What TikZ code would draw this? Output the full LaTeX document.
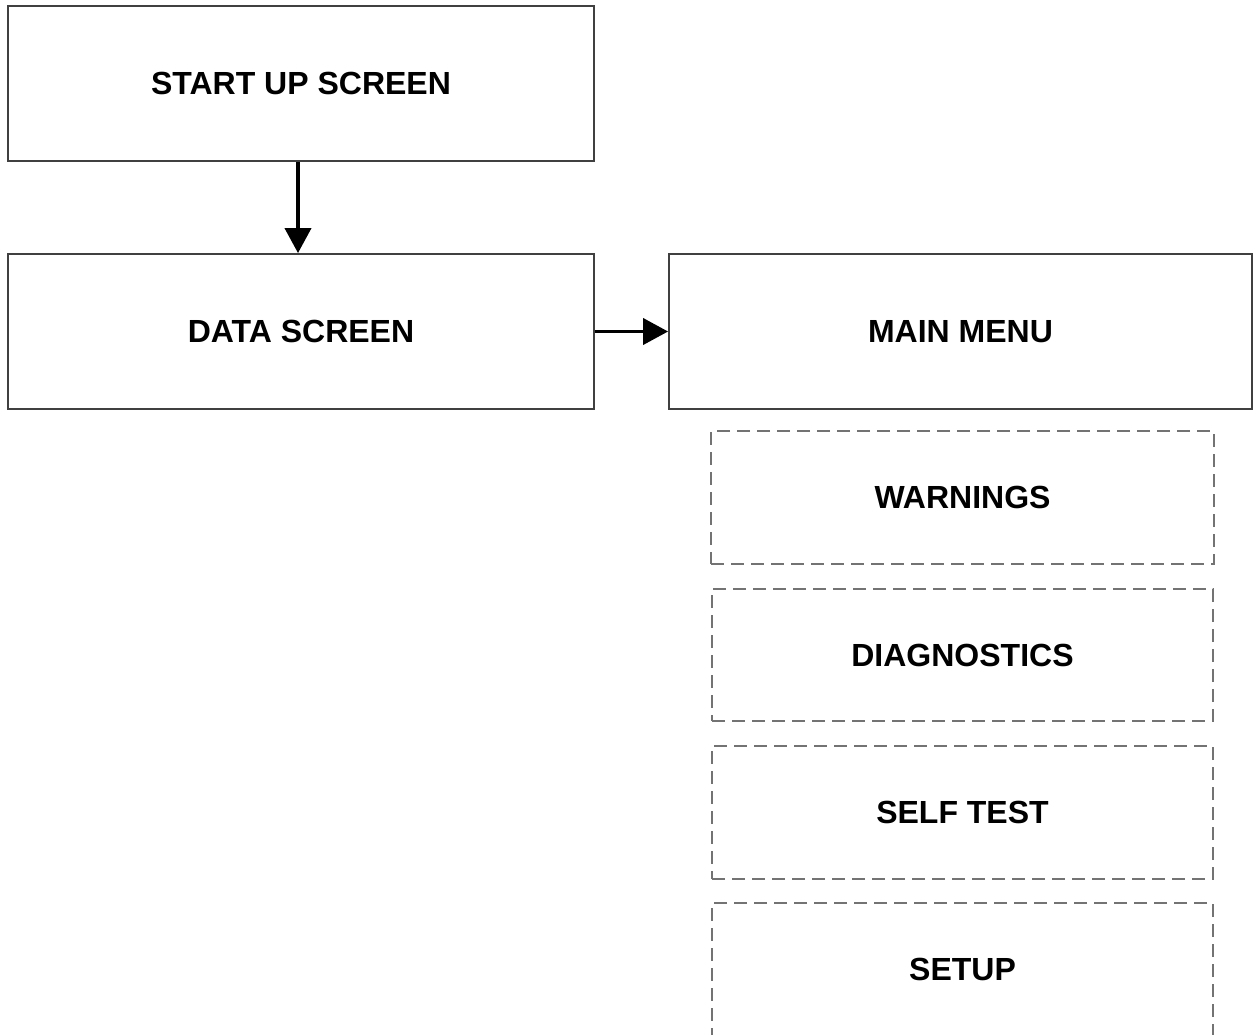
\documentclass[tikz,border=0pt]{standalone}
\usepackage{fontspec}
\setmainfont{Liberation Sans}
\usetikzlibrary{arrows.meta}
\begin{document}
\begin{tikzpicture}[x=1pt,y=-1pt,
  screen/.style={draw=black!75, line width=1.8pt, fill=white, inner sep=0pt,
    font=\bfseries\fontsize{32}{38}\selectfont},
  subitem/.style={draw=black!55, line width=1.8pt, dash pattern=on 13pt off 7pt,
    inner sep=0pt, font=\bfseries\fontsize{32}{38}\selectfont},
  flow/.style={line width=3.8pt, -{Triangle[length=25pt,width=26pt]}}]
  \useasboundingbox (0,0) rectangle (1253,1034);
  \clip (0,0) rectangle (1253,1034);

  % main screens
  \node[screen, minimum width=586pt, minimum height=155pt] (start) at (301,83.5) {START UP SCREEN};
  \node[screen, minimum width=586pt, minimum height=155pt] (data) at (301,331.5) {DATA SCREEN};
  \node[screen, minimum width=583pt, minimum height=155pt] (menu) at (960.5,331.5) {MAIN MENU};

  % menu entries
  \node[subitem, minimum width=503pt, minimum height=133pt] (warn) at (962.5,497.5) {WARNINGS};
  \node[subitem, minimum width=501pt, minimum height=132pt] (diag) at (962.5,655) {DIAGNOSTICS};
  \node[subitem, minimum width=501pt, minimum height=133pt] (self) at (962.5,812.5) {SELF TEST};
  \node[subitem, minimum width=501pt, minimum height=133pt] (setup) at (962.5,969.5) {SETUP};

  % transitions
  \draw[flow] (start.south -| 298,0) -- (data.north -| 298,0);
  \draw[flow] (data.east) -- (menu.west);
\end{tikzpicture}
\end{document}
